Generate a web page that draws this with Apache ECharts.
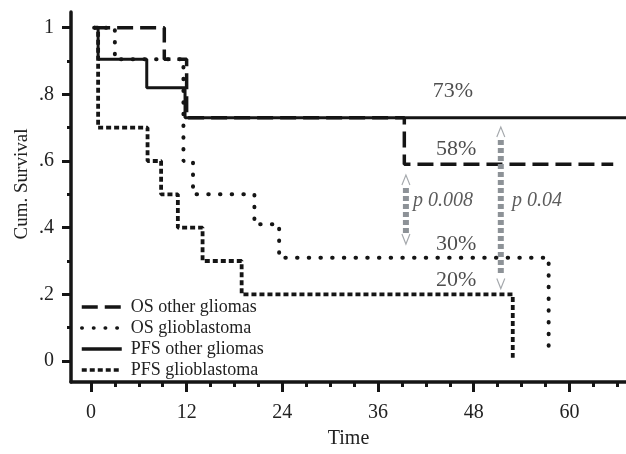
<!DOCTYPE html>
<html><head><meta charset="utf-8">
<script src="https://cdn.jsdelivr.net/npm/echarts@6/dist/echarts.min.js"></script>
<style>html,body{margin:0;padding:0;background:#fff}#c{width:626px;height:454px}</style>
</head><body><div id="c"></div>
<script>
// ---- data ----
const seriesNames = ['OS other gliomas', 'OS glioblastoma', 'PFS other gliomas', 'PFS glioblastoma'];

const osOtherT = [0.4, 9.2, 12.0, 39.3, 65.5];
const osOtherS = [1.0, 0.905, 0.73, 0.59, 0.59];

const osGbmT = [0.4, 3.0, 11.6, 12.8, 20.5, 23.6, 57.4];
const osGbmS = [1.0, 0.905, 0.60, 0.50, 0.41, 0.31, 0.04];

const pfsOtherT = [0.4, 0.9, 7.0, 11.8, 67.1];
const pfsOtherS = [1.0, 0.905, 0.82, 0.73, 0.73];

const pfsGbmT = [0.4, 0.9, 7.1, 8.8, 10.9, 14.0, 18.9, 52.9];
const pfsGbmS = [1.0, 0.70, 0.60, 0.50, 0.40, 0.30, 0.20, 0.01];

const xMajorTicks = [0, 12, 24, 36, 48, 60];
const xMinorTicks = [3, 6, 9, 15, 18, 21, 27, 30, 33, 39, 42, 45, 51, 54, 57, 63, 66];
const yMajorTicks = [0, 0.2, 0.4, 0.6, 0.8, 1];
const yTickLabels = ['0', '.2', '.4', '.6', '.8', '1'];
const yMinorTicks = [0.1, 0.3, 0.5, 0.7, 0.9];

const pctLabels = ['73%', '58%', '30%', '20%'];
const pctX = [45.4, 45.8, 45.8, 45.8];
const pctY = [0.81, 0.635, 0.35, 0.2415];

const pLabels = ['p 0.008', 'p 0.04'];
const pX = [40.4, 52.8];
const pY = [0.48, 0.48];

const arrowX = [39.5, 51.4];
const arrowHeadTop = [0.543, 0.687];
const arrowHeadBottom = [0.366, 0.2325];
const arrowLineTop = [0.519, 0.663];
const arrowLineBottom = [0.384, 0.264];

// ---- chart ----
const FONT = "'Liberation Serif', 'DejaVu Serif', serif";
const INK = '#151515';
const GRAY = '#8d9297';
const zip = (t, s) => t.map((v, i) => [v, s[i]]);

const mainStyles = [
  { type: [16, 7], width: 3.5 },
  { type: [0.5, 11.2], width: 4, cap: 'round' },
  { type: 'solid', width: 3 },
  { type: [5, 3], width: 3.8 }
];
const mainData = [zip(osOtherT, osOtherS), zip(osGbmT, osGbmS), zip(pfsOtherT, pfsOtherS), zip(pfsGbmT, pfsGbmS)];

const series = mainData.map((d, i) => ({
  name: seriesNames[i], type: 'line', step: 'end', data: d,
  xAxisIndex: 0, yAxisIndex: 0, symbol: 'none', silent: true,
  lineStyle: Object.assign({ color: INK }, mainStyles[i]),
  itemStyle: { color: INK }, z: 3 + i
}));

arrowX.forEach((x, i) => {
  series.push({
    type: 'line', data: [[x, arrowLineTop[i]], [x, arrowLineBottom[i]]],
    symbol: 'none', silent: true,
    lineStyle: { color: GRAY, width: 6, type: [5, 3] }, z: 8
  });
  series.push({
    type: 'scatter', silent: true, z: 9,
    data: [
      { value: [x, arrowHeadTop[i]], symbol: 'path://M0,10L5,0L10,10' },
      { value: [x, arrowHeadBottom[i]], symbol: 'path://M0,0L5,10L10,0' }
    ],
    symbolSize: [8, 10],
    itemStyle: { color: 'rgba(0,0,0,0)', borderColor: GRAY, borderWidth: 1.3 }
  });
});

series.push({
  type: 'scatter', silent: true, symbolSize: 0, z: 10,
  data: pctLabels.map((t, i) => ({ value: [pctX[i], pctY[i]], name: t })),
  label: { show: true, position: 'inside', formatter: p => p.name,
           fontFamily: FONT, fontSize: 22, color: '#222' }
});
series.push({
  type: 'scatter', silent: true, symbolSize: 0, z: 10,
  data: pLabels.map((t, i) => ({ value: [pX[i], pY[i]], name: t })),
  label: { show: true, position: 'right', distance: 0, formatter: p => p.name,
           fontFamily: FONT, fontSize: 20, fontStyle: 'italic', color: '#333' }
});

const mkLine = () => ({ show: true, onZero: false, lineStyle: { color: INK, width: 3.5 } });
const option = {
  animation: false,
  backgroundColor: '#fff',
  grid: { left: 71, right: 0, top: 12, bottom: 72 },
  legend: {
    data: seriesNames, orient: 'vertical', left: 80, top: 298, padding: 0,
    itemWidth: 40, itemHeight: 14, itemGap: 3,
    itemStyle: { opacity: 0 },
    lineStyle: { width: 3.5 },
    textStyle: { fontFamily: FONT, fontSize: 18, color: '#222', padding: [0, 0, 0, 4] }
  },
  xAxis: [
    { type: 'value', min: -2.5, max: 67.1, position: 'bottom', axisLine: mkLine(),
      splitLine: { show: false },
      axisTick: { show: true, customValues: xMajorTicks, length: 10, lineStyle: { color: INK, width: 3 } },
      axisLabel: { customValues: xMajorTicks, margin: 21, fontFamily: FONT, fontSize: 20, color: '#222' },
      name: 'Time', nameLocation: 'middle', nameGap: 47,
      nameTextStyle: { fontFamily: FONT, fontSize: 20, color: '#222' } },
    { type: 'value', min: -2.5, max: 67.1, position: 'bottom',
      axisLine: { show: false, onZero: false },
      splitLine: { show: false },
      axisTick: { show: true, customValues: xMinorTicks, length: 5, lineStyle: { color: INK, width: 3 } },
      axisLabel: { show: false } }
  ],
  yAxis: [
    { type: 'value', min: -0.063, max: 1.047, position: 'left', axisLine: mkLine(),
      splitLine: { show: false },
      axisTick: { show: true, customValues: yMajorTicks, length: 9, lineStyle: { color: INK, width: 3 } },
      axisLabel: { customValues: yMajorTicks, margin: 17, fontFamily: FONT, fontSize: 20, color: '#222',
                   formatter: v => { const k = yMajorTicks.findIndex(m => Math.abs(m - v) < 1e-6); return k >= 0 ? yTickLabels[k] : ''; } } },
    { type: 'value', min: -0.063, max: 1.047, position: 'left',
      axisLine: { show: false, onZero: false },
      splitLine: { show: false },
      axisTick: { show: true, customValues: yMinorTicks, length: 4, lineStyle: { color: INK, width: 3 } },
      axisLabel: { show: false } }
  ],
  graphic: [{
    type: 'text', x: 22, y: 184, rotation: Math.PI / 2,
    style: { text: 'Cum. Survival', fontFamily: FONT, fontSize: 19, fill: '#222', align: 'center', verticalAlign: 'middle' }
  }],
  series
};
const chart = echarts.init(document.getElementById('c'), null, { renderer: 'canvas' });
chart.setOption(option);
</script></body></html>
